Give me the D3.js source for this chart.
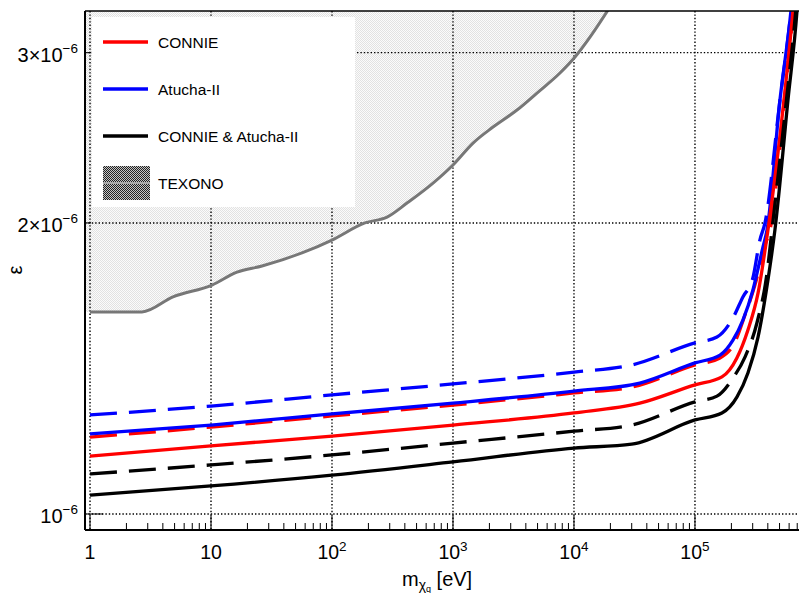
<!DOCTYPE html>
<html>
<head>
<meta charset="utf-8">
<script src="https://cdn.jsdelivr.net/npm/d3@7"></script>
<style>
  body { margin: 0; background: #fff; }
  svg { display: block; font-family: "Liberation Sans", Arial, Helvetica, sans-serif; }
</style>
</head>
<body>
<div id="chart"></div>
<script>
// mass in eV, epsilon values
var connieMass = [1, 10, 100, 1000, 1e4, 3.5e4, 1e5, 1.67e5, 2.22e5, 2.74e5, 3.32e5, 4.01e5, 5.44e5, 6.45e5, 7.3e5];
var connieSolid = [1.148e-6, 1.176e-6, 1.204e-6, 1.236e-6, 1.272e-6, 1.302e-6, 1.360e-6, 1.386e-6, 1.450e-6, 1.550e-6, 1.692e-6, 1.967e-6, 2.68e-6, 3.313e-6, 4.0e-6];

var connieDashMass = [1, 10, 100, 1000, 1e4, 3.0e4, 1e5, 1.61e5, 2.14e5, 2.59e5, 3.13e5, 3.79e5, 4.17e5, 5.44e5, 6.45e5, 7.3e5];
var connieDash = [1.201e-6, 1.230e-6, 1.263e-6, 1.296e-6, 1.334e-6, 1.353e-6, 1.426e-6, 1.450e-6, 1.506e-6, 1.606e-6, 1.725e-6, 1.897e-6, 1.967e-6, 2.65e-6, 3.29e-6, 4.0e-6];

var atuchaMass = [1, 10, 100, 1000, 1e4, 3.5e4, 1e5, 1.61e5, 2.06e5, 2.49e5, 3.01e5, 3.65e5, 3.94e5, 5.04e5, 6.21e5, 7.2e5];
var atuchaSolid = [1.210e-6, 1.236e-6, 1.269e-6, 1.302e-6, 1.340e-6, 1.366e-6, 1.433e-6, 1.460e-6, 1.513e-6, 1.587e-6, 1.704e-6, 1.889e-6, 1.967e-6, 2.68e-6, 3.313e-6, 4.1e-6];

var atuchaDashMass = [1, 10, 100, 1000, 1e4, 3.0e4, 1e5, 1.52e5, 2.06e5, 2.49e5, 3.01e5, 3.44e5, 3.79e5, 5.04e5, 6.21e5, 7.2e5];
var atuchaDash = [1.266e-6, 1.293e-6, 1.328e-6, 1.363e-6, 1.402e-6, 1.426e-6, 1.503e-6, 1.524e-6, 1.595e-6, 1.677e-6, 1.754e-6, 1.920e-6, 2.0e-6, 2.68e-6, 3.313e-6, 4.1e-6];

var bothMass = [1, 10, 100, 1000, 1e4, 3.0e4, 1e5, 1.67e5, 2.22e5, 2.74e5, 3.32e5, 4.01e5, 4.58e5, 5.87e5, 6.97e5, 7.6e5];
var bothSolid = [1.046e-6, 1.069e-6, 1.097e-6, 1.132e-6, 1.170e-6, 1.181e-6, 1.251e-6, 1.272e-6, 1.321e-6, 1.399e-6, 1.524e-6, 1.746e-6, 1.967e-6, 2.68e-6, 3.313e-6, 3.9e-6];

var bothDashMass = [1, 10, 100, 1000, 1e4, 3.0e4, 1e5, 1.52e5, 2.06e5, 2.59e5, 3.25e5, 3.94e5, 4.33e5, 5.7e5, 6.8e5, 7.5e5];
var bothDash = [1.100e-6, 1.124e-6, 1.151e-6, 1.184e-6, 1.218e-6, 1.236e-6, 1.306e-6, 1.324e-6, 1.382e-6, 1.453e-6, 1.576e-6, 1.775e-6, 1.967e-6, 2.68e-6, 3.313e-6, 3.9e-6];

var texonoMass = [1, 2.69, 4.85, 10.2, 16.4, 26.4, 56.5, 100, 187, 285, 417, 684, 1000, 1464, 2142, 3381, 4946, 7660, 1.02e4, 1.356e4, 1.91e4];
var texonoEps = [1.618e-6, 1.618e-6, 1.677e-6, 1.725e-6, 1.779e-6, 1.805e-6, 1.862e-6, 1.920e-6, 2.0e-6, 2.028e-6, 2.097e-6, 2.199e-6, 2.296e-6, 2.419e-6, 2.513e-6, 2.617e-6, 2.725e-6, 2.858e-6, 2.969e-6, 3.113e-6, 3.32e-6];

var xTicks = [1, 10, 100, 1000, 1e4, 1e5];
var xTickLabels = [["1", ""], ["10", ""], ["10", "2"], ["10", "3"], ["10", "4"], ["10", "5"]];
var yTicks = [1e-6, 2e-6, 3e-6];
var yTickLabels = [["10", "\u22126"], ["2\u00d710", "\u22126"], ["3\u00d710", "\u22126"]];
var legendNames = ["CONNIE", "Atucha-II", "CONNIE & Atucha-II", "TEXONO"];

var width = 799;
var height = 593;
var plotL = 85, plotR = 800, plotT = 11, plotB = 530;

var svg = d3.select('#chart').append('svg')
  .attr('width', width)
  .attr('height', height);

var x = d3.scaleLog().domain([0.909, 7.38e5]).range([plotL, plotR]);
var y = d3.scaleLog().domain([0.9626e-6, 3.313e-6]).range([plotB, plotT]);

var defs = svg.append('defs');
defs.append('clipPath').attr('id', 'plotclip')
  .append('rect').attr('x', plotL).attr('y', plotT).attr('width', plotR - plotL).attr('height', plotB - plotT);

// light stipple for the TEXONO region
var pat = defs.append('pattern').attr('id', 'stipple')
  .attr('width', 2).attr('height', 2).attr('patternUnits', 'userSpaceOnUse');
pat.append('rect').attr('width', 2).attr('height', 2).attr('fill', '#fbfbfb');
pat.append('rect').attr('width', 1).attr('height', 1).attr('fill', '#e2e2e2');
pat.append('rect').attr('x', 1).attr('y', 1).attr('width', 1).attr('height', 1).attr('fill', '#e2e2e2');

// dark stipple for the legend swatch
var pat2 = defs.append('pattern').attr('id', 'stippleDark')
  .attr('width', 2).attr('height', 2).attr('patternUnits', 'userSpaceOnUse');
pat2.append('rect').attr('width', 2).attr('height', 2).attr('fill', '#c4c4c4');
pat2.append('rect').attr('width', 1).attr('height', 1).attr('fill', '#222');
pat2.append('rect').attr('x', 1).attr('y', 1).attr('width', 1).attr('height', 1).attr('fill', '#222');

var plot = svg.append('g').attr('clip-path', 'url(#plotclip)');

// TEXONO excluded area
var texono = texonoMass.map(function(m, i) { return {m: m, e: texonoEps[i]}; });
var area = d3.area()
  .x(function(d) { return x(d.m); })
  .y0(plotT)
  .y1(function(d) { return y(d.e); })
  .curve(d3.curveMonotoneX);
var texonoArea = [{m: x.domain()[0], e: texonoEps[0]}].concat(texono);
plot.append('path')
  .attr('d', area(texonoArea))
  .attr('fill', 'url(#stipple)');

// grid
plot.selectAll('.vgrid').data(xTicks).enter().append('line')
  .attr('class', 'vgrid')
  .attr('x1', function(d) { return x(d); })
  .attr('x2', function(d) { return x(d); })
  .attr('y1', plotT).attr('y2', plotB)
  .attr('stroke', '#000').attr('stroke-width', 1.4).attr('stroke-dasharray', '1.4,2');
plot.selectAll('.hgrid').data(yTicks).enter().append('line')
  .attr('class', 'hgrid')
  .attr('x1', plotL).attr('x2', plotR)
  .attr('y1', function(d) { return y(d); })
  .attr('y2', function(d) { return y(d); })
  .attr('stroke', '#000').attr('stroke-width', 1.4).attr('stroke-dasharray', '1.4,2');

// TEXONO boundary
var line = d3.line()
  .x(function(d) { return x(d.m); })
  .y(function(d) { return y(d.e); })
  .curve(d3.curveMonotoneX);
plot.append('path')
  .attr('d', line(texono))
  .attr('fill', 'none').attr('stroke', '#777').attr('stroke-width', 3);

// limit curves
var curves = [
  {mass: atuchaDashMass, eps: atuchaDash, color: '#0000ff', dash: true},
  {mass: connieDashMass, eps: connieDash, color: '#ff0000', dash: true},
  {mass: atuchaMass, eps: atuchaSolid, color: '#0000ff', dash: false},
  {mass: connieMass, eps: connieSolid, color: '#ff0000', dash: false},
  {mass: bothDashMass, eps: bothDash, color: '#000', dash: true},
  {mass: bothMass, eps: bothSolid, color: '#000', dash: false}
];
curves.forEach(function(c) {
  var pts = c.mass.map(function(m, i) { return {m: m, e: c.eps[i]}; });
  plot.append('path')
    .attr('d', line(pts))
    .attr('fill', 'none')
    .attr('stroke', c.color)
    .attr('stroke-width', 3.3)
    .attr('stroke-dasharray', c.dash ? '27,12' : null);
});

// legend
var legend = svg.append('g');
legend.append('rect')
  .attr('x', 92).attr('y', 17).attr('width', 263).attr('height', 190)
  .attr('fill', '#fff');
var legendColors = ['#ff0000', '#0000ff', '#000'];
var legendY = d3.scalePoint().domain(legendNames).range([42, 183]);
legendNames.forEach(function(name, i) {
  if (i < 3) {
    legend.append('line')
      .attr('x1', 103).attr('x2', 148)
      .attr('y1', legendY(name)).attr('y2', legendY(name))
      .attr('stroke', legendColors[i]).attr('stroke-width', 3.3);
  } else {
    legend.append('rect')
      .attr('x', 103).attr('y', legendY(name) - 17).attr('width', 47).attr('height', 34)
      .attr('fill', 'url(#stippleDark)');
    legend.append('rect')
      .attr('x', 103).attr('y', legendY(name) - 1).attr('width', 47).attr('height', 2)
      .attr('fill', '#aaa');
  }
  legend.append('text')
    .attr('x', 158).attr('y', legendY(name) + 5.5)
    .attr('font-size', 15.5)
    .text(name);
});

// frame
svg.append('line').attr('x1', plotL).attr('x2', plotR).attr('y1', plotT).attr('y2', plotT)
  .attr('stroke', '#000').attr('stroke-width', 1.5);
svg.append('line').attr('x1', plotL).attr('x2', plotR).attr('y1', plotB).attr('y2', plotB)
  .attr('stroke', '#000').attr('stroke-width', 2);
svg.append('line').attr('x1', plotL).attr('x2', plotL).attr('y1', plotT).attr('y2', plotB)
  .attr('stroke', '#000').attr('stroke-width', 2);

// x ticks (inside)
var minor = [];
xTicks.forEach(function(t) {
  for (var k = 2; k <= 9; k++) {
    if (t * k < x.domain()[1]) minor.push(t * k);
  }
});
svg.selectAll('.xminor').data(minor).enter().append('line')
  .attr('x1', function(d) { return x(d); })
  .attr('x2', function(d) { return x(d); })
  .attr('y1', plotB).attr('y2', plotB - 7)
  .attr('stroke', '#000').attr('stroke-width', 1);
svg.selectAll('.xmajor').data(xTicks).enter().append('line')
  .attr('x1', function(d) { return x(d); })
  .attr('x2', function(d) { return x(d); })
  .attr('y1', plotB).attr('y2', plotB - 15)
  .attr('stroke', '#000').attr('stroke-width', 1);

svg.selectAll('.ytick').data(yTicks).enter().append('line')
  .attr('x1', plotL)
  .attr('x2', function(d, i) { return i == 0 ? plotL + 18 : plotL + 6; })
  .attr('y1', function(d) { return y(d); })
  .attr('y2', function(d) { return y(d); })
  .attr('stroke', '#000').attr('stroke-width', 1);

// tick labels
var xl = svg.selectAll('.xlabel').data(xTicks).enter().append('text')
  .attr('x', function(d) { return x(d); })
  .attr('y', 559)
  .attr('text-anchor', 'middle')
  .attr('font-size', 19.5);
xl.append('tspan').text(function(d, i) { return xTickLabels[i][0]; });
xl.append('tspan').attr('dy', -8).attr('font-size', 13.5)
  .text(function(d, i) { return xTickLabels[i][1]; });

var yl = svg.selectAll('.ylabel').data(yTicks).enter().append('text')
  .attr('x', 78)
  .attr('y', function(d) { return y(d) + 9; })
  .attr('text-anchor', 'end')
  .attr('font-size', 20);
yl.append('tspan').text(function(d, i) { return yTickLabels[i][0]; });
yl.append('tspan').attr('dy', -9).attr('font-size', 13.5)
  .text(function(d, i) { return yTickLabels[i][1]; });

// axis titles
var xt = svg.append('text').attr('x', 402).attr('y', 586).attr('font-size', 20);
xt.append('tspan').text('m');
xt.append('tspan').attr('dy', 4).attr('font-size', 14).text('\u03c7');
xt.append('tspan').attr('dy', 2).attr('font-size', 9).text('q');
xt.append('tspan').attr('dy', -6).text(' [eV]');

svg.append('text')
  .attr('transform', 'translate(22,270) rotate(-90)')
  .attr('text-anchor', 'middle')
  .attr('font-size', 20)
  .text('\u03b5');
</script>
</body>
</html>
